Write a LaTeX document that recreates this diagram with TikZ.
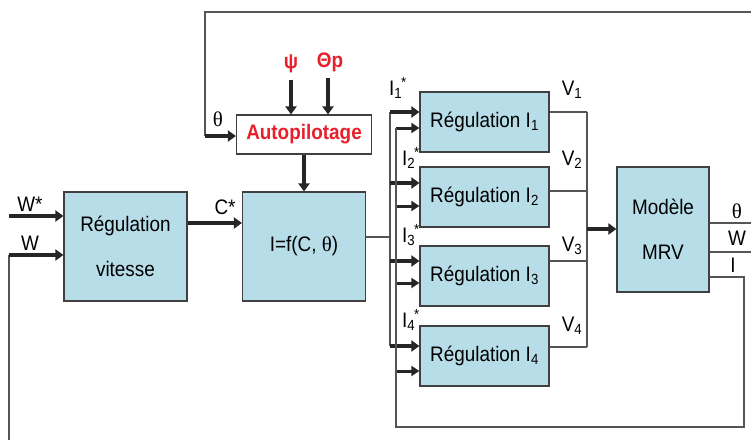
\documentclass[tikz,border=0pt]{standalone}
\usepackage{fontspec}
\setmainfont[FakeStretch=0.9]{Liberation Sans}
\newfontfamily\grserif{Liberation Serif}
\usetikzlibrary{arrows.meta}
\definecolor{bleubloc}{RGB}{183,221,232}
\definecolor{rougeauto}{RGB}{232,32,44}
\definecolor{gristrait}{RGB}{85,85,85}
\newcommand{\Iref}[1]{I\textsubscript{#1}\kern-1pt\textsuperscript{*}}
\newcommand{\Vsor}[1]{V\textsubscript{#1}}

\begin{document}
\begin{tikzpicture}[x=1pt,y=-1pt,
  font=\fontsize{21}{45}\selectfont,
  bloc/.style={draw=black!75,line width=1.2pt,fill=bleubloc,inner sep=0pt,align=center},
  fil/.style={draw=gristrait,line width=1.3pt},
  fort/.style={draw=black!85,line width=4pt,-{Triangle[length=8pt,width=11pt]}},
  moyen/.style={draw=black!85,line width=3pt,-{Triangle[length=8pt,width=10pt]}},
  rouge/.style={text=rougeauto,font=\fontsize{21}{24}\selectfont\bfseries}]
\useasboundingbox (0,0) rectangle (751,440);
% blocs
\node[bloc,minimum width=123pt,minimum height=109pt] (vit) at (125.5,246.5) {Régulation\\vitesse};
\node[bloc,minimum width=123pt,minimum height=109pt] (calc) at (304,246.5) {I=f(C, {\grserif θ})};
\node[bloc,rouge,fill=white,minimum width=135pt,minimum height=39pt] (auto) at (304,134.5) {Autopilotage};
\foreach \i/\y in {1/122,2/197,3/276,4/356}
  \node[bloc,minimum width=129pt,minimum height=60pt] (reg\i) at (484.5,\y) {Régulation I\textsubscript{\i}};
\node[bloc,minimum width=92pt,minimum height=125pt] (mrv) at (663,229.5) {Modèle\\MRV};
% entrees autopilotage
\node[rouge] (psi) at (291,64) {ψ};
\node[rouge] (thp) at (330,62) {Θp};
\draw[fort] ([yshift=-3pt]psi.south) -- (psi.south |- auto.north);
\draw[fort] ([xshift=-2pt,yshift=-3pt]thp.south) -- ([xshift=-2pt]thp.south |- auto.north);
\draw[fort] (auto) -- (calc);
% retour theta
\coordinate (fbhaut) at (751,12);
\coordinate (fbtheta) at (205,136);
\draw[fil] (fbhaut) -| (fbtheta);
\draw[fort] (fbtheta) -- (auto.west |- fbtheta);
\node (lth) at (218,119) {\grserif θ};
% regulation vitesse
\coordinate (wsin) at (9,216);
\coordinate (win) at (9,255);
\coordinate (wbas) at (9,440);
\draw[fort] (wsin) -- (vit.west |- wsin);
\draw[fil] (wbas) -- (win);
\draw[fort] (win) -- (vit.west |- win);
\node (lwst) at (30,204) {W*};
\node (lw) at (30,243) {W};
\coordinate (cs) at (0,223);
\draw[fort] (vit.east |- cs) -- (calc.west |- cs);
\node (lcs) at (225,207) {C*};
% references de courant
\coordinate (busI) at (390,237);
\coordinate (bushaut) at (390,112);
\coordinate (busbas) at (390,346);
\draw[fil] (calc.east |- busI) -- (busI);
\draw[fil] (bushaut) -- (busbas);
\foreach \i/\y in {1/112,2/183,3/261,4/346} {
  \coordinate (ref\i) at (390,\y);
  \draw[fort] (ref\i) -- (reg\i.west |- ref\i);
}
\foreach \i/\y in {1/128,2/206,3/283,4/371} {
  \coordinate (mes\i) at (396,\y);
  \draw[moyen] (mes\i) -- (reg\i.west |- mes\i);
}
\coordinate (retcoin) at (744,427);
\draw[fil] (mrv.east |- 0,277) -| (retcoin) -| (mes1);
\foreach \i/\x/\y in {1/398/88,2/411/158,3/411/235,4/411/320}
  \node (li\i) at (\x,\y) {\Iref{\i}};
% tensions
\foreach \i/\y in {1/112,2/191,3/261,4/347} {
  \coordinate (vs\i) at (587,\y);
  \draw[fil] (reg\i.east |- vs\i) -- (vs\i);
}
\draw[fil] (vs1) -- (vs4);
\coordinate (vmrv) at (587,229);
\draw[fort] (vmrv) -- (mrv.west |- vmrv);
\foreach \i/\y in {1/90,2/160,3/246,4/326}
  \node (lv\i) at (572,\y) {\Vsor{\i}};
% sorties MRV
\coordinate (sth) at (751,223);
\coordinate (sw) at (751,252);
\draw[fil] (mrv.east |- sth) -- (sth);
\draw[fil] (mrv.east |- sw) -- (sw);
\node (lsth) at (737,211) {\grserif θ};
\node (lsw) at (737,238) {W};
\node (lsi) at (733,265) {I};
\end{tikzpicture}
\end{document}
